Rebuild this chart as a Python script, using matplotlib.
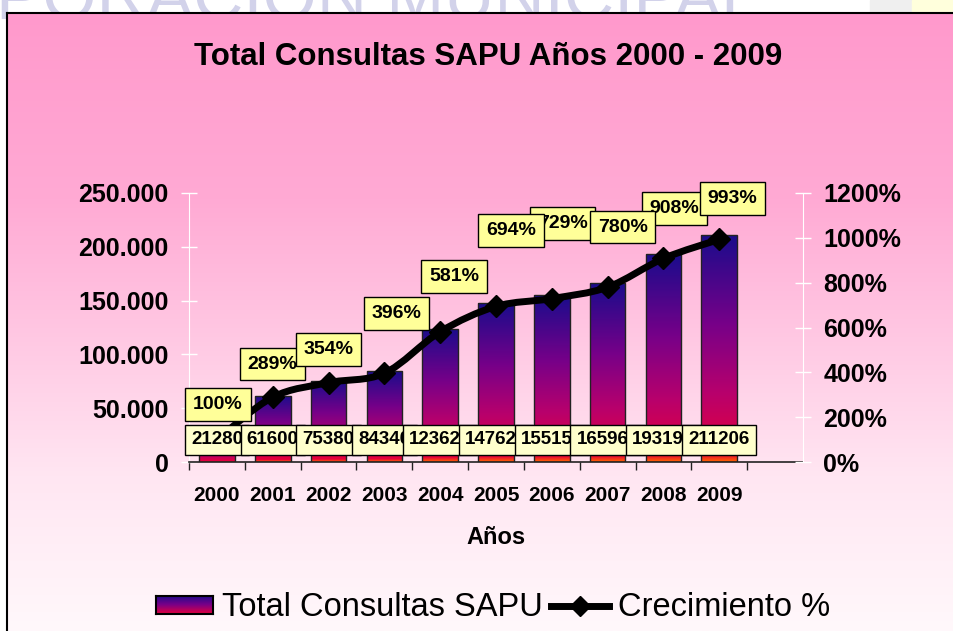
import numpy as np
import matplotlib
matplotlib.use("Agg")
import matplotlib.pyplot as plt
from matplotlib.colors import LinearSegmentedColormap
from matplotlib.path import Path
from matplotlib.patches import PathPatch, Rectangle, Patch
from matplotlib.lines import Line2D
from matplotlib.ticker import FuncFormatter, FixedLocator

plt.rcParams["font.family"] = ["Liberation Sans", "DejaVu Sans"]
plt.rcParams["font.weight"] = "bold"

# data
years = ["2000", "2001", "2002", "2003", "2004", "2005", "2006", "2007", "2008", "2009"]
consultas = [21280, 61600, 75380, 84340, 123620, 147620, 155150, 165960, 193190, 211206]
crecimiento = [100, 289, 354, 396, 581, 694, 729, 780, 908, 993]

# layout of the % labels (pixel offset from the point: dx right, dy up)
pct_offsets = [(1, 35), (0, 33), (0, 33), (12, 60), (14, 55),
               (15, 76), (11, 75), (15, 60), (11, 50), (13, 41)]
pct_behind = {6, 8}

W, H = 954, 631
fig = plt.figure(figsize=(W / 100, H / 100), dpi=100)
fig.patch.set_facecolor("white")


def fx(px):
    return px / W


def fy(py):
    return 1 - py / H


# slide leftovers above the chart
fig.text(fx(-4), fy(19), "PORACION MUNICIPAL", fontsize=50, fontweight="normal",
         color="#D2D2EA", ha="left", va="baseline", zorder=-5)
fig.add_artist(Rectangle((fx(870), fy(13)), fx(42), 13 / H, transform=fig.transFigure,
                         color="#EFEFEF", zorder=-5))
fig.add_artist(Rectangle((fx(912), fy(13)), fx(42), 13 / H, transform=fig.transFigure,
                         color="#FFFFDC", zorder=-5))

# chart area with pink gradient
bg_cmap = LinearSegmentedColormap.from_list(
    "bg", [(0, "#FF99CC"), (0.3, "#FFAAD4"), (0.75, "#FFE6F2"), (1, "#FFF8FB")])
bg = fig.add_axes([fx(7), 0, 1 - fx(7), fy(13)], zorder=-1)
bg.imshow(np.linspace(0, 1, 256).reshape(-1, 1), cmap=bg_cmap, aspect="auto",
          extent=[0, 1, 0, 1], origin="upper")
bg.set_xticks([]); bg.set_yticks([])
for s in ["right", "bottom"]:
    bg.spines[s].set_visible(False)
for s in ["left", "top"]:
    bg.spines[s].set_linewidth(1.5); bg.spines[s].set_color("black")

fig.text(fx(488), fy(65), "Total Consultas SAPU Años 2000 - 2009", fontsize=22.5,
         ha="center", va="baseline")

ax = fig.add_axes([fx(189), fy(462), fx(803 - 189), (462 - 193) / H])
ax.patch.set_alpha(0)
ax2 = ax.twinx()

x = np.arange(len(years))
bar_cmap = LinearSegmentedColormap.from_list(
    "bar", [(0, "#FF6400"), (0.035, "#E6003C"), (0.3, "#B8006C"),
            (0.6, "#780088"), (1, "#1A0C8C")])
bars = ax.bar(x, consultas, width=0.64, facecolor="none", edgecolor="#222222",
              linewidth=1, zorder=2)
grad = np.linspace(0, 1, 256).reshape(-1, 1)
for b in bars:
    im = ax.imshow(grad, cmap=bar_cmap, aspect="auto", origin="lower", zorder=1.9,
                   extent=[b.get_x(), b.get_x() + b.get_width(), 0, b.get_height()])
    im.set_clip_path(b)

ax.set_xlim(-0.5, len(years) + 0.5)
ax.set_ylim(0, 250000)
ax.set_yticks(np.arange(0, 250001, 50000))
ax.yaxis.set_major_formatter(FuncFormatter(lambda v, p: f"{int(v):,}".replace(",", ".")))
ax.tick_params(axis="y", direction="inout", length=11.5, width=1, color="white",
               labelsize=18, pad=9)
ax.set_xticks(x)
ax.set_xticklabels(years)
ax.xaxis.set_minor_locator(FixedLocator(np.arange(len(years) + 1) - 0.5))
ax.tick_params(axis="x", which="major", length=0, labelsize=15, pad=17)
ax.tick_params(axis="x", which="minor", direction="out", length=5.8, width=1, color="#222222")
ax.set_xlabel("Años", fontsize=17, fontweight="bold")
ax.xaxis.set_label_coords(0.5, (462 - 537) / 269)
ax.xaxis.label.set_va("center")

ax.spines["top"].set_visible(False)
ax.spines["right"].set_visible(False)
ax.spines["left"].set_color("white")
ax.spines["bottom"].set_color("#222222")
ax.spines["bottom"].set_linewidth(1.2)

ax2.set_ylim(0, 1200)
ax2.set_yticks(np.arange(0, 1201, 200))
ax2.yaxis.set_major_formatter(FuncFormatter(lambda v, p: f"{int(v)}%"))
ax2.tick_params(axis="y", direction="inout", length=11.5, width=1, color="white",
                labelsize=18, pad=9)
for s in ["left", "top", "bottom"]:
    ax2.spines[s].set_visible(False)
ax2.spines["right"].set_color("white")


def smooth_path(xs, ys):
    pts = np.column_stack([xs, ys]).astype(float)
    verts, codes = [pts[0]], [Path.MOVETO]
    n = len(pts)
    for i in range(n - 1):
        p0 = pts[i - 1] if i > 0 else pts[i]
        p1, p2 = pts[i], pts[i + 1]
        p3 = pts[i + 2] if i + 2 < n else pts[i + 1]
        verts += [p1 + (p2 - p0) / 6, p2 - (p3 - p1) / 6, p2]
        codes += [Path.CURVE4] * 3
    return Path(verts, codes)


ax2.add_patch(PathPatch(smooth_path(x, crecimiento), facecolor="none", edgecolor="black",
                        linewidth=5, capstyle="round", joinstyle="round", zorder=3))
ax2.plot(x, crecimiento, "D", color="black", markersize=11, zorder=4)

# value labels at the bar bases
for i, v in enumerate(consultas):
    ax2.text(i, (462 - 440) / 269, f"{v}", transform=ax.get_xaxis_transform(),
             ha="center", va="center", fontsize=13.5, zorder=6, clip_on=False,
             bbox=dict(boxstyle="square,pad=0.33", fc="#FFFFCC", ec="black", lw=1))

# growth labels
order = sorted(range(len(crecimiento)), key=lambda k: (k not in pct_behind, k))
for i in order:
    dx, dy = pct_offsets[i]
    ax2.annotate(f"{crecimiento[i]}%", xy=(i, crecimiento[i]), xytext=(dx * 0.72, dy * 0.72),
                 textcoords="offset points", ha="center", va="center", fontsize=14,
                 zorder=7, annotation_clip=False,
                 bbox=dict(boxstyle="square,pad=0.4", fc="#FFFF99", ec="black", lw=1))

handles = [Patch(facecolor="none", edgecolor="black", linewidth=1.2),
           Line2D([], [], color="black", linewidth=5, marker="D", markersize=10)]
leg = fig.legend(handles, ["Total Consultas SAPU", "Crecimiento %"], loc="center",
                 bbox_to_anchor=(fx(493), fy(608)), ncol=2, frameon=False,
                 prop={"size": 23.5, "weight": "normal"}, handlelength=1.75,
                 handleheight=0.5, handletextpad=0.28, columnspacing=0.25)

fig.canvas.draw()
bb = leg.legend_handles[0].get_window_extent()
lax = fig.add_axes(fig.transFigure.inverted().transform_bbox(bb), zorder=5)
lax.imshow(grad, cmap=LinearSegmentedColormap.from_list("lg", ["#E6003C", "#780088", "#1A0C8C"]),
           aspect="auto", origin="lower", extent=[0, 1, 0, 1])
lax.set_xticks([]); lax.set_yticks([])
for s in lax.spines.values():
    s.set_linewidth(1.5)

fig.savefig("out.png", dpi=100)
